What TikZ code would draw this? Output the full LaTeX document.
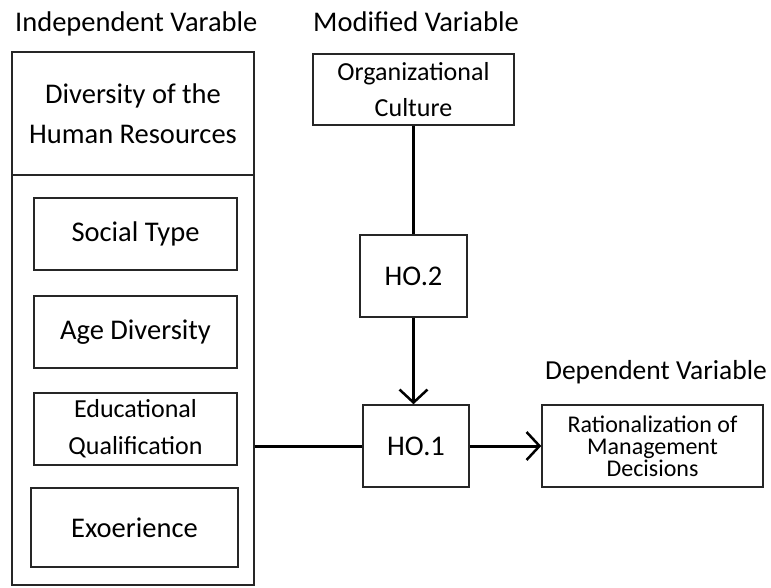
\documentclass[tikz,border=0pt]{standalone}
\usepackage{fontspec}
\setmainfont{Carlito}
\usetikzlibrary{arrows.meta}
\begin{document}
\begin{tikzpicture}[x=1pt,y=-1pt,
  box/.style={draw=black!85,line width=1.5pt,rectangle,inner sep=0pt,align=center,
    font=\fontsize{28.5}{40}\selectfont},
  ttl/.style={anchor=base west,inner sep=0pt,font=\fontsize{28.5}{30}\selectfont},
  conn/.style={line width=3pt,black},
  arr/.style={conn,-{Straight Barb[length=13pt,width=28pt,line width=2.5pt]}}]
\useasboundingbox (0,0) rectangle (771,588);
\node[ttl] (tiv) at (15,32) {Independent Varable};
\node[ttl] (tmv) at (313,32) {Modified Variable};
\node[ttl,anchor=base east,font=\fontsize{27.5}{30}\selectfont] (tdv) at (767,379) {Dependent Variable};
% independent variable block
\node[box,minimum width=242pt,minimum height=123pt] (ivhead) at (133,113.5) {Diversity of the\\Human Resources};
\node[box,minimum width=242pt,minimum height=410pt] (ivbody) at (133,380) {};
\node[box,minimum width=203pt,minimum height=72pt] (social) at (135.5,234) {Social Type};
\node[box,minimum width=203pt,minimum height=72pt] (age) at (135.5,332) {Age Diversity};
\node[box,minimum width=203pt,minimum height=72pt,font=\fontsize{26}{37}\selectfont] (edu) at (135.5,429) {Educational\\Qualification};
\node[box,minimum width=207pt,minimum height=79pt] (exo) at (134.5,527.5) {Exoerience};
% modifier
\node[box,minimum width=201pt,minimum height=71pt,font=\fontsize{26}{36}\selectfont] (org) at (413.5,89.5) {Organizational\\Culture};
\node[box,minimum width=107pt,minimum height=82pt] (ho2) at (413.5,276) {HO.2};
\node[box,minimum width=106pt,minimum height=82pt] (ho1) at (416,446) {HO.1};
\node[box,minimum width=221pt,minimum height=82pt,font=\fontsize{24}{22}\selectfont] (rat) at (652.5,446) {Rationalization of\\Management\\Decisions};
% connectors
\draw[conn] (org.south) -- (org.south |- ho2.north);
\draw[arr] (ho2.south) -- (ho2.south |- ho1.north);
\draw[conn] (ho1.west -| ivbody.east) -- (ho1.west);
\draw[arr] (ho1.east) -- (rat.west);
\end{tikzpicture}
\end{document}
